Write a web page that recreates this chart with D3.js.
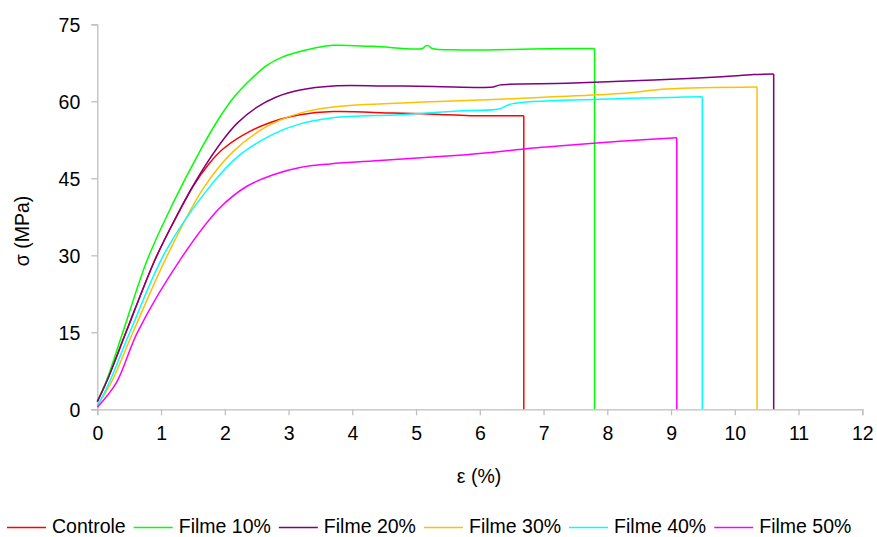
<!DOCTYPE html>
<html>
<head>
<meta charset="utf-8">
<script src="https://cdn.jsdelivr.net/npm/d3@7"></script>
<style>
  body { margin: 0; background: #fff; }
  svg text { font-family: "Liberation Sans", Arial, sans-serif; fill: #000; }
</style>
</head>
<body>
<svg id="chart"></svg>
<script>
var width = 877,
  height = 537

// series names / colours
var names = ['Controle', 'Filme 10%', 'Filme 20%', 'Filme 30%', 'Filme 40%', 'Filme 50%']
var colors = ['#ff0000', '#00ff00', '#800080', '#ffc000', '#00ffff', '#ff00ff']

// [strain %, stress MPa]
var controle = [[0,1.5],[0.15,5.5],[0.45,15],[0.9,29],[1.2,36.5],[1.51,43.6],[1.75,47.8],[1.98,50.8],[2.4,54.2],[2.87,56.5],[3.18,57.4],[3.7,58.0],[4.64,57.7],[5.27,57.5],[5.85,57.2],[6.69,57.2]]
var filme10 = [[0,1.5],[0.15,5.8],[0.4,15],[0.78,29],[1.19,40.2],[1.61,50.3],[1.9,56.5],[2.13,60.6],[2.4,64.2],[2.66,67],[2.9,68.6],[3.18,69.7],[3.45,70.5],[3.7,70.9],[4.33,70.7],[5.1,70.3],[5.15,70.8],[5.2,70.8],[5.25,70.3],[5.69,70.0],[6.5,70.1],[7.36,70.3],[7.8,70.3]]
var filme20 = [[0,1.5],[0.15,5.5],[0.45,15],[0.9,29],[1.25,37.8],[1.61,45.8],[1.98,52.6],[2.2,55.8],[2.5,58.8],[2.8,60.8],[3.18,62.2],[3.7,63.0],[4.5,63.0],[5.27,62.9],[6.21,62.8],[6.32,63.2],[7.36,63.5],[8.2,63.9],[9.0,64.3],[9.8,64.8],[10.3,65.2],[10.61,65.3]]
var filme30 = [[0,0.8],[0.21,5],[0.56,15],[1.08,29.5],[1.66,43],[2.13,50.2],[2.66,55.1],[3.18,57.7],[3.7,58.9],[5.01,59.8],[6.32,60.4],[7.0,60.8],[8.2,61.5],[8.93,62.4],[10.35,62.8]]
var filme40 = [[0,0.6],[0.18,5],[0.51,15],[1.06,30.5],[1.72,42.7],[2.24,49.6],[2.76,53.6],[3.18,55.6],[3.7,56.8],[4.75,57.4],[5.79,58.2],[6.3,58.5],[6.5,59.5],[7.88,60.4],[9.49,60.9]]
var filme50 = [[0,0.4],[0.3,5.2],[0.63,15],[1.32,29.5],[1.92,39.2],[2.34,43.4],[2.76,45.7],[3.18,47.1],[3.65,47.8],[4.49,48.5],[5.79,49.6],[6.32,50.2],[6.84,50.9],[7.23,51.3],[8.2,52.2],[9.09,52.9]]

var xTicks = [0,1,2,3,4,5,6,7,8,9,10,11,12]
var yTicks = [0,15,30,45,60,75]

var series = [controle, filme10, filme20, filme30, filme40, filme50]

var svg = d3.select('#chart')
  .attr('width', width)
  .attr('height', height)

//SCALES
var xScale = d3.scaleLinear().domain([0, 12]).range([97.3, 862.3])
var yScale = d3.scaleLinear().domain([0, 75]).range([409.3, 24.3])

//AXES
var xAxis = svg.append('g')
  .attr('transform', 'translate(0,' + yScale(0) + ')')
  .call(d3.axisBottom(xScale).tickValues(xTicks).tickSize(6).tickPadding(7).tickFormat(d3.format('d')))
var yAxis = svg.append('g')
  .attr('transform', 'translate(' + xScale(0) + ',0)')
  .call(d3.axisLeft(yScale).tickValues(yTicks).tickSize(6).tickPadding(11).tickFormat(d3.format('d')))

svg.selectAll('.domain').attr('stroke', '#bfbfbf').attr('stroke-width', 1.3)
svg.selectAll('.tick line').attr('stroke', '#bfbfbf').attr('stroke-width', 1.3)
svg.selectAll('.tick text').style('font-size', '19.5px')
  .style('font-family', '"Liberation Sans", Arial, sans-serif')
xAxis.selectAll('.tick text').attr('dy', '0.9em')
yAxis.selectAll('.tick text').attr('dy', '0.35em')

svg.append('text')
  .attr('x', 479).attr('y', 483)
  .attr('text-anchor', 'middle')
  .style('font-size', '19.5px')
  .text('ε (%)')

svg.append('text')
  .attr('transform', 'translate(29,231) rotate(-90)')
  .attr('text-anchor', 'middle')
  .style('font-size', '19.5px')
  .text('σ (MPa)')

//CURVES
var line = d3.line()
  .x(function(d) { return xScale(d[0]) })
  .y(function(d) { return yScale(d[1]) })
  .curve(d3.curveCatmullRom.alpha(0.5))

var g = svg.append('g')
series.forEach(function(s, i) {
  g.append('path')
    .datum(s)
    .attr('d', line)
    .attr('fill', 'none')
    .attr('stroke', colors[i])
    .attr('stroke-width', 1.5)
  // rupture: vertical drop to zero
  var last = s[s.length - 1]
  g.append('line')
    .attr('x1', xScale(last[0])).attr('x2', xScale(last[0]))
    .attr('y1', yScale(last[1])).attr('y2', yScale(0))
    .attr('stroke', colors[i])
    .attr('stroke-width', 1.5)
})

//LEGEND
var legend = svg.append('g')
var lx = 7
names.forEach(function(n, i) {
  legend.append('line')
    .attr('x1', lx).attr('x2', lx + 39)
    .attr('y1', 527.5).attr('y2', 527.5)
    .attr('stroke', colors[i])
    .attr('stroke-width', 1.5)
  var t = legend.append('text')
    .attr('x', lx + 45).attr('y', 532.5)
    .style('font-size', '19.5px')
    .text(n)
  lx = lx + 45 + t.node().getComputedTextLength() + 8
})
</script>
</body>
</html>
